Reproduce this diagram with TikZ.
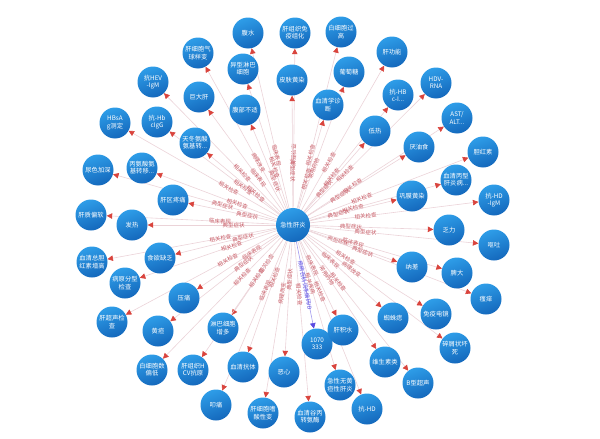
\documentclass[tikz,border=0pt]{standalone}
\usepackage{fontspec}
\newfontfamily\cjk{Noto Sans CJK SC}
\usepackage{tikz}
\usepackage{xcolor}
\definecolor{nodeLight}{HTML}{2E9DE8}
\definecolor{nodeDark}{HTML}{1468BC}
\definecolor{edgePink}{HTML}{EBD3D8}
\definecolor{arrowRed}{HTML}{D9443D}
\definecolor{relRed}{HTML}{C0434F}
\definecolor{linkBlue}{HTML}{5A4BE0}
\usetikzlibrary{arrows.meta,backgrounds}

\tikzset{
  ent/.style={circle, minimum size=31pt, inner sep=0pt, top color=nodeLight, bottom color=nodeDark, shading angle=20, text=white, align=center, font=\cjk\fontsize{6.3}{7.2}\selectfont},
  hub/.style={ent, minimum size=34pt},
  link/.style={draw=edgePink, line width=0.6pt, -{Triangle[length=5.5pt,width=5.5pt,color=arrowRed]}},
  idlink/.style={draw=linkBlue!55, line width=0.6pt, -{Triangle[length=5.5pt,width=5.5pt,color=linkBlue]}},
  rel/.style={sloped, pos=0.33, inner sep=0.5pt, text=relRed!85, font=\cjk\fontsize{5.5}{6}\selectfont},
  idrel/.style={rel, pos=0.5, text=linkBlue}
}

\begin{document}
\begin{tikzpicture}[x=1pt, y=-1pt]
  \useasboundingbox (0,0) rectangle (600,439);
  \node[hub] (c) at (293,225) {急性肝炎};
  \node[ent] (n1) at (248,33) {腹水};
  \node[ent] (n2) at (295,33) {肝组织免\\疫组化};
  \node[ent] (n3) at (341,32) {白细胞过\\高};
  \node[ent] (n4) at (198,53) {肝细胞气\\球样变};
  \node[ent] (n5) at (243,69) {异型淋巴\\细胞};
  \node[ent] (n6) at (292,80) {皮肤黄染};
  \node[ent] (n7) at (392,52) {肝功能};
  \node[ent] (n8) at (349,72) {葡萄糖};
  \node[ent] (n9) at (153,82) {抗HEV\\-IgM};
  \node[ent] (n10) at (199,97) {巨大肝};
  \node[ent] (n11) at (245,110) {腹部不适};
  \node[ent] (n12) at (328,105) {血清学诊\\断};
  \node[ent] (n13) at (398,95) {抗-HB\\c-I...};
  \node[ent] (n14) at (436,83) {HDV-\\RNA};
  \node[ent] (n15) at (115,123) {HBsA\\g测定};
  \node[ent] (n16) at (157,122) {抗-Hb\\cIgG};
  \node[ent] (n17) at (195,143) {天冬氨酸\\氨基转...};
  \node[ent] (n18) at (375,131) {低热};
  \node[ent] (n19) at (457,118) {AST/\\ALT...};
  \node[ent] (n20) at (419,147) {厌油食};
  \node[ent] (n21) at (483,152) {胆红素};
  \node[ent] (n22) at (98,170) {尿色加深};
  \node[ent] (n23) at (142,168) {丙氨酸氨\\基转移...};
  \node[ent] (n24) at (173,200) {肝区疼痛};
  \node[ent] (n25) at (456,180) {血清丙型\\肝炎病...};
  \node[ent] (n26) at (412,196) {巩膜黄染};
  \node[ent] (n27) at (494,200) {抗-HD\\-IgM};
  \node[ent] (n28) at (91,215) {肝质偏软};
  \node[ent] (n29) at (132,225) {发热};
  \node[ent] (n30) at (449,230) {乏力};
  \node[ent] (n31) at (494,245) {呕吐};
  \node[ent] (n32) at (160,258) {食欲缺乏};
  \node[ent] (n33) at (92,262) {血清总胆\\红素增高};
  \node[ent] (n34) at (412,267) {纳差};
  \node[ent] (n35) at (457,273) {脾大};
  \node[ent] (n36) at (125,283) {病原分型\\检查};
  \node[ent] (n37) at (486,299) {瘙痒};
  \node[ent] (n38) at (184,298) {压痛};
  \node[ent] (n39) at (436,314) {免疫电镜};
  \node[ent] (n40) at (112,322) {肝超声检\\查};
  \node[ent] (n41) at (158,331) {黄疸};
  \node[ent] (n42) at (223,328) {淋巴细胞\\增多};
  \node[ent] (n43) at (393,318) {蜘蛛痣};
  \node[ent] (n44) at (455,348) {碎屑状坏\\死};
  \node[ent] (n45) at (317,344) {1070\\333};
  \node[ent] (n46) at (343,330) {肝积水};
  \node[ent] (n47) at (152,370) {白细胞数\\偏低};
  \node[ent] (n48) at (193,370) {肝组织H\\CV抗原};
  \node[ent] (n49) at (243,367) {血清抗体};
  \node[ent] (n50) at (284,372) {恶心};
  \node[ent] (n51) at (385,362) {维生素类};
  \node[ent] (n52) at (418,383) {B型超声};
  \node[ent] (n53) at (340,385) {急性无黄\\疸性肝炎};
  \node[ent] (n54) at (216,405) {叩痛};
  \node[ent] (n55) at (263,413) {肝细胞嗜\\酸性变};
  \node[ent] (n56) at (310,417) {血清谷丙\\转氨酶};
  \node[ent] (n57) at (367,409) {抗-HD};
  \begin{scope}[on background layer]
  \draw[link] (c) -- node[rel] {临床表现} (n1);
  \draw[link] (c) -- node[rel] {病理检查} (n2);
  \draw[link] (c) -- node[rel] {相关检查} (n3);
  \draw[link] (c) -- node[rel] {病理改变} (n4);
  \draw[link] (c) -- node[rel] {相关检查} (n5);
  \draw[link] (c) -- node[rel] {典型症状} (n6);
  \draw[link] (c) -- node[rel] {相关检查} (n7);
  \draw[link] (c) -- node[rel] {常用药物} (n8);
  \draw[link] (c) -- node[rel] {相关检查} (n9);
  \draw[link] (c) -- node[rel] {临床表现} (n10);
  \draw[link] (c) -- node[rel] {典型症状} (n11);
  \draw[link] (c) -- node[rel] {相关检查} (n12);
  \draw[link] (c) -- node[rel] {相关检查} (n13);
  \draw[link] (c) -- node[rel] {相关检查} (n14);
  \draw[link] (c) -- node[rel] {相关检查} (n15);
  \draw[link] (c) -- node[rel] {相关检查} (n16);
  \draw[link] (c) -- node[rel] {相关检查} (n17);
  \draw[link] (c) -- node[rel] {典型症状} (n18);
  \draw[link] (c) -- node[rel] {相关检查} (n19);
  \draw[link] (c) -- node[rel] {典型症状} (n20);
  \draw[link] (c) -- node[rel] {相关检查} (n21);
  \draw[link] (c) -- node[rel] {典型症状} (n22);
  \draw[link] (c) -- node[rel] {相关检查} (n23);
  \draw[link] (c) -- node[rel] {典型症状} (n24);
  \draw[link] (c) -- node[rel] {相关检查} (n25);
  \draw[link] (c) -- node[rel] {典型症状} (n26);
  \draw[link] (c) -- node[rel] {相关检查} (n27);
  \draw[link] (c) -- node[rel] {临床表现} (n28);
  \draw[link] (c) -- node[rel] {典型症状} (n29);
  \draw[link] (c) -- node[rel] {典型症状} (n30);
  \draw[link] (c) -- node[rel] {典型症状} (n31);
  \draw[link] (c) -- node[rel] {典型症状} (n32);
  \draw[link] (c) -- node[rel] {相关检查} (n33);
  \draw[link] (c) -- node[rel] {典型症状} (n34);
  \draw[link] (c) -- node[rel] {临床表现} (n35);
  \draw[link] (c) -- node[rel] {相关检查} (n36);
  \draw[link] (c) -- node[rel] {典型症状} (n37);
  \draw[link] (c) -- node[rel] {临床表现} (n38);
  \draw[link] (c) -- node[rel] {相关检查} (n39);
  \draw[link] (c) -- node[rel] {相关检查} (n40);
  \draw[link] (c) -- node[rel] {典型症状} (n41);
  \draw[link] (c) -- node[rel] {相关检查} (n42);
  \draw[link] (c) -- node[rel] {临床表现} (n43);
  \draw[link] (c) -- node[rel] {病理改变} (n44);
  \draw[idlink] (c) -- node[idrel] {疾病百科词条编码ID} (n45);
  \draw[link] (c) -- node[rel] {临床表现} (n46);
  \draw[link] (c) -- node[rel] {相关检查} (n47);
  \draw[link] (c) -- node[rel] {相关检查} (n48);
  \draw[link] (c) -- node[rel] {相关检查} (n49);
  \draw[link] (c) -- node[rel] {典型症状} (n50);
  \draw[link] (c) -- node[rel] {常用药物} (n51);
  \draw[link] (c) -- node[rel] {相关检查} (n52);
  \draw[link] (c) -- node[rel] {相关疾病} (n53);
  \draw[link] (c) -- node[rel] {临床表现} (n54);
  \draw[link] (c) -- node[rel] {病理改变} (n55);
  \draw[link] (c) -- node[rel] {相关检查} (n56);
  \draw[link] (c) -- node[rel] {相关检查} (n57);
  \end{scope}
\end{tikzpicture}
\end{document}
